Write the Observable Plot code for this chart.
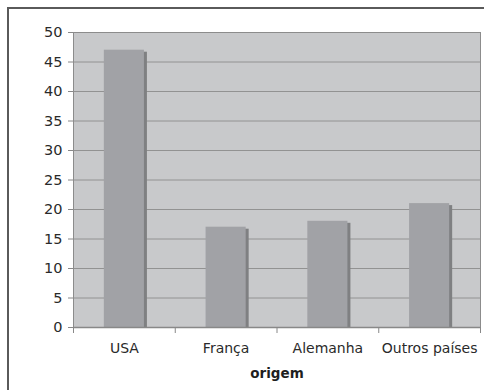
<!DOCTYPE html>
<html>
<head>
<meta charset="utf-8">
<script src="https://cdn.jsdelivr.net/npm/d3@7"></script>
<script src="https://cdn.jsdelivr.net/npm/@observablehq/plot@0.6"></script>
<style>
  html, body { margin: 0; padding: 0; background: #fff; overflow: hidden; }
  #wrap { position: relative; width: 484px; height: 390px; }
  #border { position: absolute; left: 7px; top: 7px; width: 520px; height: 420px; border: 2px solid #5a5a5a; box-sizing: border-box; }
  #chart { position: absolute; left: 0; top: 0; }
  svg { font-family: "DejaVu Sans", Verdana, sans-serif; }
</style>
</head>
<body>
<div id="wrap"><div id="border"></div><div id="chart"></div></div>
<script>
const categories = ["USA", "França", "Alemanha", "Outros países"];
const values = [47, 17, 18, 21];
const yTicks = [0, 5, 10, 15, 20, 25, 30, 35, 40, 45, 50];
const xLabel = "origem";

const data = categories.map((c, i) => ({category: c, value: values[i], i}));
const halfBar = 0.197;

const plot = Plot.plot({
  width: 484,
  height: 390,
  marginLeft: 73,
  marginRight: 4,
  marginTop: 32,
  marginBottom: 63,
  style: {background: "transparent", fontSize: "14px", color: "#2a2a2a", fontFamily: "'DejaVu Sans', Verdana, sans-serif"},
  x: {type: "linear", domain: [0, categories.length]},
  y: {domain: [0, 50]},
  marks: [
    Plot.frame({fill: "#c8c9cb", stroke: null}),
    Plot.gridY(yTicks, {stroke: "#929292", strokeOpacity: 1, strokeWidth: 1}),
    Plot.frame({stroke: "#8c8c8c", strokeWidth: 1}),
    Plot.rectY(data, {x1: d => d.i + 0.5 - halfBar, x2: d => d.i + 0.5 + halfBar, y: "value", dx: 3, insetTop: 2, fill: "#7f8082"}),
    Plot.rectY(data, {x1: d => d.i + 0.5 - halfBar, x2: d => d.i + 0.5 + halfBar, y: "value", fill: "#a1a2a6"}),
    Plot.ruleY([0], {stroke: "#888", strokeWidth: 1.5}),
    Plot.axisY({ticks: yTicks, tickSize: 5, tickPadding: 6, stroke: "#888", label: null, fontSize: 14.5}),
    Plot.axisX({ticks: d3.range(categories.length + 1), tickSize: 6, tickFormat: () => "", stroke: "#888", label: null}),
    Plot.axisX({ticks: categories.map((c, i) => i + 0.5), tickSize: 0, tickPadding: 16, tickFormat: (d) => categories[Math.floor(d)], label: null, fontSize: 14}),
    Plot.text([xLabel], {frameAnchor: "bottom", dy: 50, fontWeight: "bold", fill: "#1e1e1e", fontSize: 13.5})
  ]
});
document.getElementById("chart").appendChild(plot);
</script>
</body>
</html>
